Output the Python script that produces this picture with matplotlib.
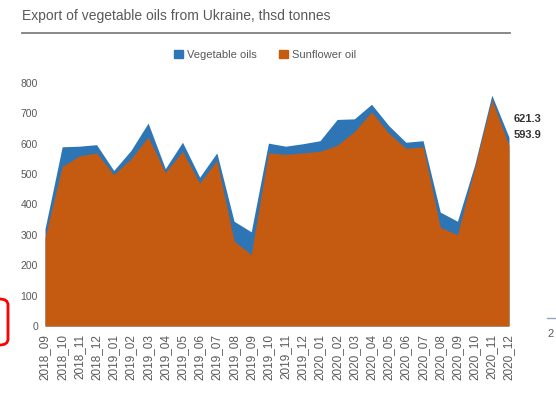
import matplotlib
matplotlib.use("Agg")
import matplotlib.pyplot as plt
from matplotlib.patches import Patch, FancyBboxPatch
from matplotlib.lines import Line2D

months = ["2018_09", "2018_10", "2018_11", "2018_12",
          "2019_01", "2019_02", "2019_03", "2019_04", "2019_05", "2019_06",
          "2019_07", "2019_08", "2019_09", "2019_10", "2019_11", "2019_12",
          "2020_01", "2020_02", "2020_03", "2020_04", "2020_05", "2020_06",
          "2020_07", "2020_08", "2020_09", "2020_10", "2020_11", "2020_12"]

vegetable_oils = [320, 590, 592, 597, 512, 578, 668, 518, 605, 490,
                  570, 345, 310, 602, 592, 600, 610, 680, 682, 730,
                  660, 605, 610, 375, 345, 530, 760, 621.3]

sunflower_oil = [290, 525, 560, 570, 498, 550, 622, 505, 575, 470,
                 545, 280, 235, 570, 565, 570, 575, 595, 640, 705,
                 635, 585, 590, 325, 300, 520, 745, 593.9]

yticks = [0, 100, 200, 300, 400, 500, 600, 700, 800]

title = "Export of vegetable oils from Ukraine, thsd tonnes"
labels = ["Vegetable oils", "Sunflower oil"]
c_blue = "#2E75B6"
c_orange = "#C55A11"
grey = "#595959"

plt.rcParams['font.family'] = ['Liberation Sans', 'DejaVu Sans']

fig = plt.figure(figsize=(5.56, 4.01), dpi=100)
ax = fig.add_axes([45/556, 1-326/401, (509-45)/556, (326-83)/401])

x = list(range(len(months)))
ax.fill_between(x, 0, vegetable_oils, color=c_blue, linewidth=0)
ax.fill_between(x, 0, sunflower_oil, color=c_orange, linewidth=0)

ax.set_xlim(0, len(months) - 1)
ax.set_ylim(0, 800)
ax.set_yticks(yticks)
ax.set_yticklabels([str(v) for v in yticks], fontsize=7.5, color=grey)
ax.set_xticks(x)
ax.set_xticklabels(months, rotation=90, fontsize=8.5, color=grey)
ax.tick_params(axis="y", length=0, pad=5)
ax.tick_params(axis="x", length=0, pad=6)
for s in ax.spines.values():
    s.set_visible(False)

ax.annotate(f"{vegetable_oils[-1]:.1f}", xy=(x[-1], vegetable_oils[-1]),
            xytext=(3, 13.5), textcoords="offset points", fontsize=8,
            color="#333333", fontweight="bold", va="center", ha="left")
ax.annotate(f"{sunflower_oil[-1]:.1f}", xy=(x[-1], sunflower_oil[-1]),
            xytext=(3, 7.5), textcoords="offset points", fontsize=8,
            color="#333333", fontweight="bold", va="center", ha="left")

fig.text(22/556, 1-16/401, title, fontsize=10, color=grey, va="center", ha="left")
fig.add_artist(Line2D([22/556, 510/556], [1-33/401, 1-33/401],
                      transform=fig.transFigure, color="#7f7f7f", lw=1.3))

handles = [Patch(color=c_blue), Patch(color=c_orange)]
fig.legend(handles, labels, loc="center", bbox_to_anchor=(265/556, 1-55/401),
           ncol=2, frameon=False, fontsize=8, handlelength=0.8,
           handleheight=0.8, columnspacing=2.0, handletextpad=0.4,
           labelcolor=grey)

fig.add_artist(FancyBboxPatch((-20/556, 1-345/401), 28/556, 46/401,
                              boxstyle="round,pad=0,rounding_size=0.015",
                              transform=fig.transFigure, fill=False,
                              edgecolor="#ff0000", lw=2))
fig.add_artist(Line2D([547/556, 556/556], [1-318/401, 1-318/401],
                      transform=fig.transFigure, color="#8fa9c4", lw=1))
fig.text(547/556, 1-334/401, "2", fontsize=8, color=grey, va="center", ha="left")

fig.savefig("out.png", dpi=100)
